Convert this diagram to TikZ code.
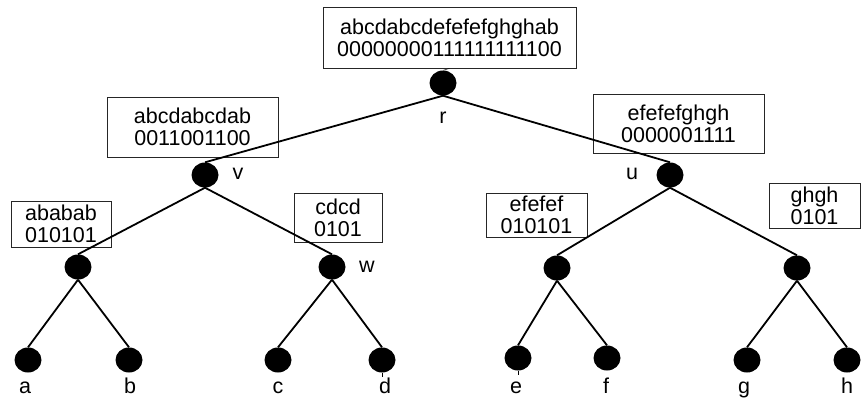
\documentclass[tikz,border=0pt]{standalone}
\usepackage{fontspec}
\setmainfont{Liberation Sans}
\usetikzlibrary{shapes.geometric}
\begin{document}
\begin{tikzpicture}[x=1pt,y=-1pt,
  every node/.style={font=\fontsize{21.5}{22}\selectfont},
  dot/.style={ellipse,fill=black,inner sep=0pt,minimum width=27pt,minimum height=25pt},
  infobox/.style={draw=black!85,line width=0.9pt,align=center,inner sep=0pt},
  edge/.style={line width=1.8pt}]
\useasboundingbox (0,0) rectangle (861,397);
% tree nodes
\node[dot] (r) at (443,83) {};
\node[dot] (v) at (205,175) {};
\node[dot] (u) at (670,175) {};
\node[dot] (x) at (78,267) {};
\node[dot] (w) at (332,267) {};
\node[dot] (y) at (557,268) {};
\node[dot] (z) at (797,268) {};
\node[dot] (a) at (28,360) {};
\node[dot] (b) at (129,360) {};
\node[dot] (c) at (278,360) {};
\node[dot] (d) at (382,360) {};
\node[dot] (e) at (518,358) {};
\node[dot] (f) at (607,358) {};
\node[dot] (g) at (747,360) {};
\node[dot] (h) at (847,360) {};
% string boxes
\node[infobox,minimum width=253pt,minimum height=61pt] (rbox) at (449.5,37.5) {abcdabcdefefefghghab\\00000000111111111100};
\node[infobox,minimum width=171pt,minimum height=60pt] (vbox) at (192.5,127) {abcdabcdab\\0011001100};
\node[infobox,minimum width=171pt,minimum height=59pt] (ubox) at (678.5,123.5) {efefefghgh\\0000001111};
\node[infobox,minimum width=100pt,minimum height=46pt] (xbox) at (61,224) {ababab\\010101};
\node[infobox,minimum width=88pt,minimum height=49pt] (wbox) at (338,217.5) {cdcd\\0101};
\node[infobox,minimum width=101pt,minimum height=44pt] (ybox) at (536.5,215) {efefef\\010101};
\node[infobox,minimum width=91pt,minimum height=45pt] (zbox) at (814.5,205.5) {ghgh\\0101};
% labels
\node[anchor=base] (rl) at (443,123) {r};
\node[anchor=base] (vl) at (238,179) {v};
\node[anchor=base] (ul) at (632,179) {u};
\node[anchor=base] (wl) at (367,272) {w};
\node[anchor=base] (al) at (25,393) {a};
\node[anchor=base] (bl) at (130,393) {b};
\node[anchor=base] (cl) at (278,393) {c};
\node[anchor=base] (dl) at (385,393) {d};
\node[anchor=base] (el) at (516,393) {e};
\node[anchor=base] (fl) at (606,393) {f};
\node[anchor=base] (gl) at (744,393) {g};
\node[anchor=base] (hl) at (847,393) {h};
% edges
\draw[thin] (rbox.south) -- (r.north);
\draw[edge] (r.south) -- (v.north);
\draw[edge] (r.south) -- (u.north);
\draw[edge] (v.south) -- (x.north);
\draw[edge] (v.south) -- (w.north);
\draw[edge] (u.south) -- (y.north);
\draw[edge] (u.south) -- (z.north);
\draw[edge] (x.south) -- (a.north);
\draw[edge] (x.south) -- (b.north);
\draw[edge] (w.south) -- (c.north);
\draw[edge] (w.south) -- (d.north);
\draw[edge] (y.south) -- (e.north);
\draw[edge] (y.south) -- (f.north);
\draw[edge] (z.south) -- (g.north);
\draw[edge] (z.south) -- (h.north);
\draw[thin] (d.south) -- ++(0,4);
\draw[thin] (e.south) -- ++(0,4);
\end{tikzpicture}
\end{document}
